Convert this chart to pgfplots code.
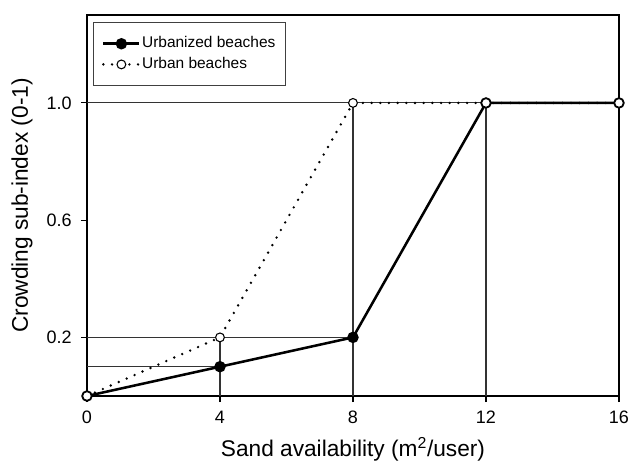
\documentclass[border=0pt]{standalone}
\usepackage{pgfplots}
\pgfplotsset{compat=1.18}
\usepackage{fontspec}
\setmainfont{Liberation Sans}
\begin{document}
\begin{tikzpicture}
\begin{axis}[
  width=398.8pt, height=285.6pt, scale only axis,
  xmin=0, xmax=16, ymin=0, ymax=1.3,
  xtick={0,4,8,12,16}, ytick={0.2,0.6,1.0},
  yticklabels={0.2,0.6,1.0},
  tick align=outside, tick pos=left, major tick length=4.5pt,
  tick style={black, line width=0.8pt},
  axis line style={line width=1.1pt},
  /pgf/number format/assume math mode=true,
  ticklabel style={font=\fontsize{13.5}{16}\selectfont},
  yticklabel style={xshift=-3.5pt},
  xticklabel style={yshift=-3.3pt},
  xlabel={Sand availability (m\textsuperscript{2}/user)},
  ylabel={Crowding sub-index (0-1)},
  label style={font=\fontsize{17}{20}\selectfont},
  xlabel style={at={(axis description cs:0.5,0)}, anchor=base, yshift=-45.7pt},
  ylabel style={at={(axis description cs:-0.122,0.5)}, anchor=center},
  clip=false,
  legend style={at={(axis description cs:0.0113,0.9816)}, anchor=north west, draw=black!75, line width=0.6pt,
    font=\fontsize{11.6}{14}\selectfont, inner xsep=6.5pt, inner ysep=9.5pt, row sep=2.5pt,
    nodes={inner sep=1pt, text height=8.5pt, text depth=2.5pt},
    every odd column/.append style={column sep=4pt}},
  legend cell align=left,
  legend image code/.code={\draw[mark repeat=2,mark phase=2,#1] plot coordinates {(0pt,0pt) (13.5pt,0pt) (27pt,0pt)};},
]
% reference lines
\addplot[forget plot, black!80, line width=0.8pt] coordinates {(0,1) (16,1)};
\addplot[forget plot, black!80, line width=0.8pt] coordinates {(0,0.2) (8,0.2)};
\addplot[forget plot, black!80, line width=0.8pt] coordinates {(0,0.1) (4,0.1)};
\addplot[forget plot, black!80, line width=0.8pt] coordinates {(4,0) (4,0.2)};
\addplot[forget plot, black!80, line width=0.8pt] coordinates {(8,0) (8,1)};
\addplot[forget plot, black!80, line width=0.8pt] coordinates {(12,0) (12,1)};
% data
\addplot[black, line width=1.9pt, mark=*, mark size=3.3pt, mark options={solid, fill=black}]
  coordinates {(0,0) (4,0.1) (8,0.2) (12,1) (16,1)};
\addlegendentry{Urbanized beaches}
\addplot[black, line width=2pt, line cap=round, dash pattern=on 0pt off 6.5pt, mark=*, mark size=3.3pt,
  mark options={solid, fill=white, line width=0.8pt}]
  coordinates {(0,0) (4,0.2) (8,1) (12,1) (16,1)};
\addlegendentry{Urban beaches}
\end{axis}
\pgfresetboundingbox
\path (current axis.south west) ++(-65.2pt,-50.2pt) rectangle ++(472.25pt,347.05pt);
\end{tikzpicture}
\end{document}
